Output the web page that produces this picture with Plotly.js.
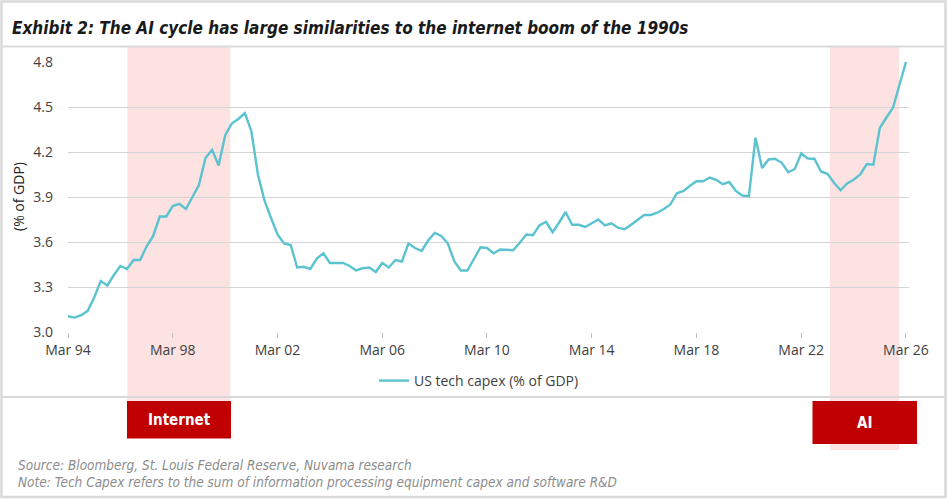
<!DOCTYPE html>
<html>
<head>
<meta charset="utf-8">
<script src="https://cdn.plot.ly/plotly-3.0.1.min.js"></script>
<style>
  html, body { margin: 0; padding: 0; background: #ffffff; }
  #chart { width: 947px; height: 499px; }
</style>
</head>
<body>
<div id="chart"></div>
<script>
// US tech capex as a share of GDP, quarterly, Q1 1994 .. Q1 2026
const firstYear = 1994;
const quarterMonths = [3, 6, 9, 12];
const techCapexPct = [
  3.105, 3.096, 3.112, 3.141,   // 1994
  3.23, 3.34, 3.31, 3.38,       // 1995
  3.44, 3.42, 3.48, 3.48,       // 1996
  3.57, 3.64, 3.77, 3.77,       // 1997
  3.84, 3.855, 3.82, 3.90,      // 1998
  3.98, 4.16, 4.215, 4.11,      // 1999
  4.31, 4.39, 4.42, 4.46,       // 2000
  4.34, 4.05, 3.875, 3.76,      // 2001
  3.65, 3.59, 3.58, 3.43,       // 2002
  3.435, 3.42, 3.49, 3.525,     // 2003
  3.46, 3.46, 3.46, 3.44,       // 2004
  3.41, 3.425, 3.43, 3.40,      // 2005
  3.46, 3.43, 3.48, 3.47,       // 2006
  3.59, 3.56, 3.54, 3.61,       // 2007
  3.66, 3.64, 3.59, 3.47,       // 2008
  3.41, 3.41, 3.49, 3.565,      // 2009
  3.56, 3.525, 3.55, 3.55,      // 2010
  3.545, 3.595, 3.65, 3.645,    // 2011
  3.71, 3.735, 3.665, 3.73,     // 2012
  3.80, 3.715, 3.715, 3.70,     // 2013
  3.725, 3.75, 3.71, 3.725,     // 2014
  3.695, 3.685, 3.715, 3.75,    // 2015
  3.78, 3.78, 3.795, 3.82,      // 2016
  3.85, 3.925, 3.94, 3.975,     // 2017
  4.005, 4.005, 4.03, 4.015,    // 2018
  3.985, 4.00, 3.94, 3.91,      // 2019
  3.905, 4.295, 4.094, 4.15,    // 2020
  4.155, 4.128, 4.065, 4.087,   // 2021
  4.19, 4.157, 4.155, 4.07,     // 2022
  4.055, 3.995, 3.945, 3.99,    // 2023
  4.015, 4.05, 4.12, 4.115,     // 2024
  4.36, 4.43, 4.495, 4.65,      // 2025
  4.80                          // 2026
];

const seriesName = 'US tech capex (% of GDP)';
const tickDates = ['1994-03-01', '1998-03-01', '2002-03-01', '2006-03-01', '2010-03-01',
                   '2014-03-01', '2018-03-01', '2022-03-01', '2026-03-01'];
const tickLabels = ['Mar 94', 'Mar 98', 'Mar 02', 'Mar 06', 'Mar 10',
                    'Mar 14', 'Mar 18', 'Mar 22', 'Mar 26'];
const yTicks = [3.0, 3.3, 3.6, 3.9, 4.2, 4.5, 4.8];

// Highlighted cycles: [label, start, end]
const eraNames = ['Internet', 'AI'];
const eraStart = ['1996-06-05', '2023-04-05'];
const eraEnd = ['2000-05-12', '2025-11-25'];

const titleText = 'Exhibit 2: The AI cycle has large similarities to the internet boom of the 1990s';
const sourceText = 'Source: Bloomberg, St. Louis Federal Reserve, Nuvama research';
const noteText = 'Note: Tech Capex refers to the sum of information processing equipment capex and software R&D';

// quarter-end month dates for each observation
const dates = techCapexPct.map((_, i) => {
  const y = firstYear + Math.floor(i / 4);
  const m = quarterMonths[i % 4];
  return y + '-' + String(m).padStart(2, '0') + '-01';
});

const W = 947, H = 499;
const M = { l: 68, r: 38, t: 62, b: 167 };
const PW = W - M.l - M.r, PH = H - M.t - M.b;
const px = x => (x - M.l) / PW;        // pixel -> paper x
const py = y => (H - M.b - y) / PH;    // pixel -> paper y

const narrow = '"Liberation Sans Narrow", "DejaVu Sans Condensed", "Roboto Condensed", sans-serif';
const body = '"Open Sans", "Noto Sans", sans-serif';
const frameColor = '#d9d9d9';
const bandColor = 'rgba(252, 218, 218, 0.78)';
const boxColor = '#c00000';

const trace = {
  type: 'scatter',
  mode: 'lines',
  name: seriesName,
  x: dates,
  y: techCapexPct,
  line: { color: '#5bc3cf', width: 2.4 },
  hoverinfo: 'x+y'
};

const shapes = [];
// cycle bands, extending down to their labels
const bandBottoms = [438, 450];
eraNames.forEach((n, i) => {
  shapes.push({
    type: 'rect', layer: 'below', xref: 'x', yref: 'paper',
    x0: eraStart[i], x1: eraEnd[i], y0: py(bandBottoms[i]), y1: py(47),
    fillcolor: bandColor, line: { width: 0 }
  });
});
// outer frame and panel separators
shapes.push({ type: 'rect', xref: 'paper', yref: 'paper', layer: 'above',
  x0: px(1.5), x1: px(945.5), y0: py(497), y1: py(1.5),
  line: { color: frameColor, width: 2.5 }, fillcolor: 'rgba(0,0,0,0)' });
shapes.push({ type: 'line', xref: 'paper', yref: 'paper', layer: 'above',
  x0: px(1.5), x1: px(945.5), y0: py(46.5), y1: py(46.5),
  line: { color: frameColor, width: 2 } });
shapes.push({ type: 'line', xref: 'paper', yref: 'paper', layer: 'above',
  x0: px(1.5), x1: px(945.5), y0: py(397), y1: py(397),
  line: { color: frameColor, width: 2 } });
// label boxes
const boxX = [[127, 231], [812.5, 917]];
const boxY = [[401, 438.5], [401, 444]];
eraNames.forEach((n, i) => {
  shapes.push({ type: 'rect', xref: 'paper', yref: 'paper', layer: 'above',
    x0: px(boxX[i][0]), x1: px(boxX[i][1]), y0: py(boxY[i][1]), y1: py(boxY[i][0]),
    fillcolor: boxColor, line: { width: 0 } });
});

const annotations = [];
eraNames.forEach((n, i) => {
  annotations.push({
    text: '<b>' + n + '</b>', xref: 'paper', yref: 'paper', showarrow: false,
    x: px((boxX[i][0] + boxX[i][1]) / 2), y: py((boxY[i][0] + boxY[i][1]) / 2),
    xanchor: 'center', yanchor: 'middle',
    font: { family: narrow, size: 15, color: '#ffffff' }
  });
});
annotations.push({
  text: '(% of GDP)', xref: 'paper', yref: 'paper', showarrow: false,
  x: px(18), y: py(197), xanchor: 'center', yanchor: 'middle', textangle: -90,
  font: { family: body, size: 14, color: '#262626' }
});
annotations.push({
  text: '<i>' + sourceText + '</i>', xref: 'paper', yref: 'paper', showarrow: false,
  x: px(16), y: py(465), xanchor: 'left', yanchor: 'middle',
  font: { family: narrow, size: 13.5, color: '#8c8c8c' }
});
annotations.push({
  text: '<i>' + noteText + '</i>', xref: 'paper', yref: 'paper', showarrow: false,
  x: px(16), y: py(482), xanchor: 'left', yanchor: 'middle',
  font: { family: narrow, size: 13.5, color: '#8c8c8c' }
});

const layout = {
  width: W, height: H,
  margin: M,
  paper_bgcolor: '#ffffff',
  plot_bgcolor: 'rgba(0,0,0,0)',
  title: {
    text: '<b><i>' + titleText + '</i></b>',
    x: 12 / W, xanchor: 'left', xref: 'container',
    y: 1 - 28 / H, yanchor: 'middle', yref: 'container',
    font: { family: narrow, size: 17, color: '#1a1a1a' }
  },
  xaxis: {
    type: 'date',
    range: ['1994-03-01', '2026-04-12'],
    tickvals: tickDates,
    ticktext: tickLabels,
    ticks: 'outside', ticklen: 5, tickcolor: '#bfbfbf', tickwidth: 1,
    showgrid: false, zeroline: false,
    showline: false,
    tickfont: { family: body, size: 14, color: '#404040' },
    fixedrange: true
  },
  yaxis: {
    range: [3.0, 4.8],
    tickvals: yTicks,
    tickformat: '.1f',
    showgrid: true, gridcolor: '#d4d4d4', gridwidth: 1,
    zeroline: false, showline: false, ticks: '',
    ticklabelstandoff: 14,
    tickfont: { family: body, size: 14, color: '#404040' },
    fixedrange: true
  },
  showlegend: true,
  legend: {
    orientation: 'h', x: px(479), xanchor: 'center', y: py(381), yanchor: 'middle',
    font: { family: body, size: 14, color: '#404040' },
    bgcolor: 'rgba(0,0,0,0)'
  },
  shapes: shapes,
  annotations: annotations
};

Plotly.newPlot('chart', [trace], layout, { displayModeBar: false, staticPlot: true });
</script>
</body>
</html>
